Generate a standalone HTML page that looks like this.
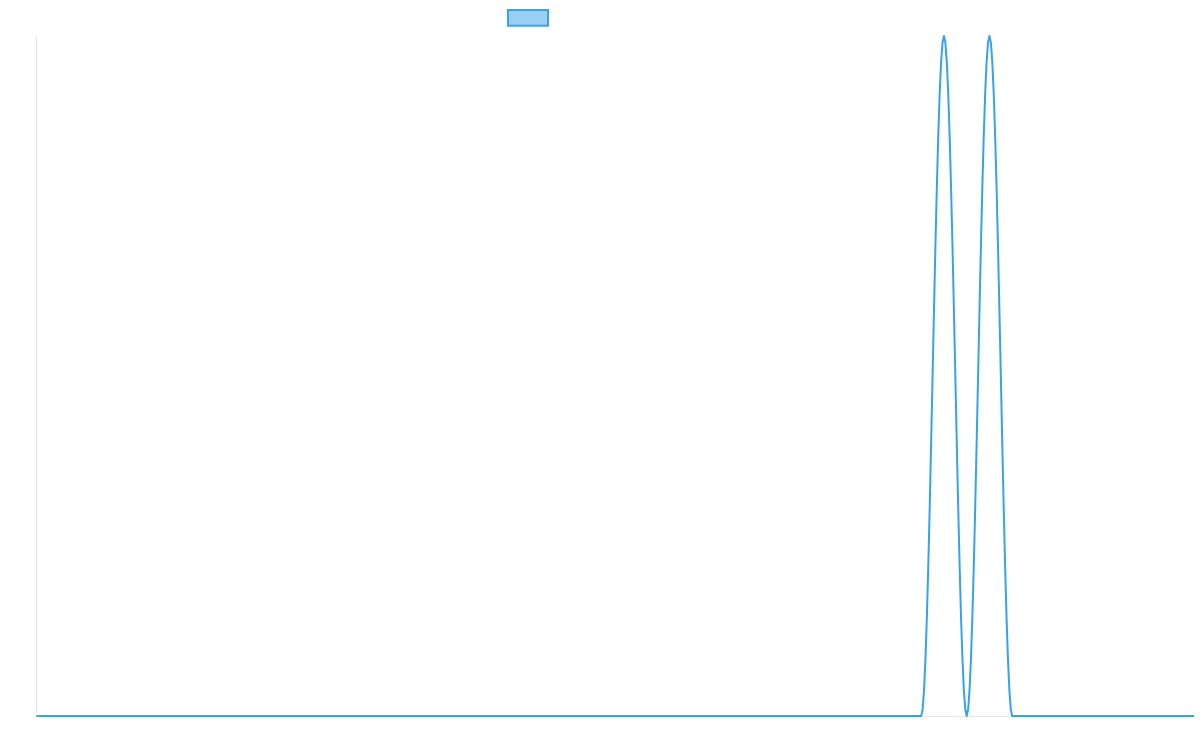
<!DOCTYPE html>
<html>
<head>
<meta charset="utf-8">
<style>
  html, body { margin: 0; padding: 0; background: #ffffff; }
  body { width: 1200px; height: 750px; overflow: hidden; font-family: "Liberation Sans", sans-serif; }
  svg { display: block; }
</style>
</head>
<body>
<svg width="1200" height="750" viewBox="0 0 1200 750" xmlns="http://www.w3.org/2000/svg">
  <rect x="0" y="0" width="1200" height="750" fill="#ffffff"/>
  <!-- legend box -->
  <rect x="508" y="10" width="40" height="15.7" fill="rgba(54,162,235,0.5)" stroke="rgb(54,162,235)" stroke-width="2"/>
  <!-- axes -->
  <line x1="36.5" y1="36" x2="36.5" y2="717" stroke="rgba(0,0,0,0.1)" stroke-width="1"/>
  <line x1="36" y1="716.5" x2="1194" y2="716.5" stroke="rgba(0,0,0,0.1)" stroke-width="1"/>
  <!-- series -->
  <path fill="none" stroke="rgb(54,162,235)" stroke-width="2" stroke-linejoin="round"
    d="M36.5,716 L921.20,716
       L922.62,709.47 L924.04,690.12 L925.47,658.70 L926.89,616.42 L928.31,564.89 L929.73,506.11 L931.15,442.33
       L932.58,376 L934.00,309.67 L935.42,245.89 L936.84,187.11 L938.26,135.58 L939.68,93.30 L941.11,61.88 L942.53,42.53
       L943.95,36 L945.37,42.53 L946.79,61.88 L948.22,93.30 L949.64,135.58 L951.06,187.11 L952.48,245.89 L953.90,309.67
       L955.33,376 L956.75,442.33 L958.17,506.11 L959.59,564.89 L961.01,616.42 L962.43,658.70 L963.86,690.12 L965.28,709.47
       L966.70,716
       L968.12,709.47 L969.54,690.12 L970.97,658.70 L972.39,616.42 L973.81,564.89 L975.23,506.11 L976.65,442.33
       L978.08,376 L979.50,309.67 L980.92,245.89 L982.34,187.11 L983.76,135.58 L985.18,93.30 L986.61,61.88 L988.03,42.53
       L989.45,36 L990.87,42.53 L992.29,61.88 L993.72,93.30 L995.14,135.58 L996.56,187.11 L997.98,245.89 L999.40,309.67
       L1000.83,376 L1002.25,442.33 L1003.67,506.11 L1005.09,564.89 L1006.51,616.42 L1007.93,658.70 L1009.36,690.12 L1010.78,709.47
       L1012.20,716 L1194,716"/>
</svg>
</body>
</html>
